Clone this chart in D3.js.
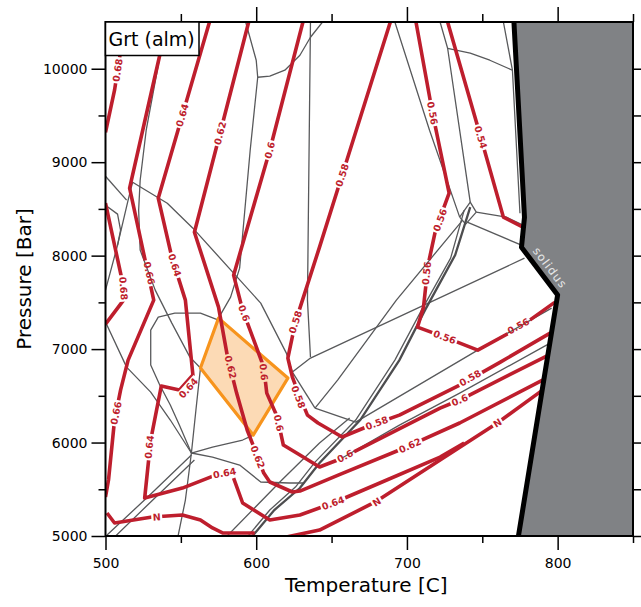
<!DOCTYPE html>
<html>
<head>
<meta charset="utf-8">
<script src="https://cdn.jsdelivr.net/npm/d3@7"></script>
<style>
body { margin: 0; background: #fff; }
svg { display: block; font-family: "DejaVu Sans", sans-serif; }
</style>
</head>
<body>
<script>
// axes
var tempMajor = [500, 600, 700, 800];
var tempMinor = [550, 650, 750, 850];
var pressMajor = [5000, 6000, 7000, 8000, 9000, 10000];
var pressMinor = [5500, 6500, 7500, 8500, 9500];

// solidus [T, P]
var solidus = [[771, 10500], [778, 8410], [776, 8090], [800, 7580], [774, 5000]];

// garnet almandine isopleths [T, P]
var iso068a = [[500, 9320], [506, 9770], [513, 10500]];
var iso068b = [[500, 8561], [511, 7738], [512, 7524], [500, 7267]];
var iso066 = [[541, 10500], [528, 9577], [516, 8722], [532, 7524], [515, 6882], [510, 6561], [506, 6241], [502, 5599], [500, 5417]];
var iso064 = [[569, 10500], [551, 9503], [535, 8615], [544, 7984], [553, 7524], [558, 6722], [549, 6561], [537, 6604],
  [530, 6027], [526, 5406], [551, 5513], [573, 5652], [587, 5695]];
var iso064b = [[585, 5620], [591, 5353], [609, 5171], [629, 5225], [651, 5353], [682, 5567], [722, 5845], [738, 5995]];
var iso062 = [[595, 10500], [576, 9310], [559, 8251], [575, 7449], [581, 6914], [587, 6529], [594, 6134], [601, 5845],
  [605, 5674], [609, 5578], [624, 5471], [629, 5481], [656, 5663], [695, 5920], [735, 6209], [790, 6668]];
var iso060 = [[631, 10500], [609, 9128], [585, 7791], [591, 7417], [605, 6807], [607, 6529], [614, 6273], [618, 5973],
  [629, 5866], [642, 5738], [654, 5813], [722, 6369], [735, 6455], [794, 6936]];
var iso058 = [[689, 10500], [657, 8861], [642, 8091], [626, 7289], [621, 6904], [624, 6701], [629, 6487], [634, 6294],
  [641, 6209], [657, 6059], [673, 6166], [695, 6294], [735, 6615], [762, 6861], [795, 7171]];
var iso056 = [[706, 10500], [717, 9524], [728, 8668], [719, 8273], [714, 7898], [711, 7449], [707, 7235], [725, 7128],
  [747, 6989], [775, 7235], [798, 7500]];
var iso054 = [[727, 10500], [749, 9267], [764, 8412], [777, 8305]];
var isoN1 = [[501, 5246], [506, 5139], [531, 5203], [551, 5225], [563, 5171], [571, 5086], [578, 5032], [599, 5032]];
var isoN2 = [[620, 4989], [642, 5064], [679, 5364], [722, 5813], [760, 6209], [790, 6561]];

var isopleths = [iso068a, iso068b, iso066, iso064, iso064b, iso062, iso060, iso058, iso056, iso054, isoN1, isoN2];

// contour labels [text, T, P]
var contourLabels = [
  ["0.68", 508, 9984], ["0.68", 512, 7650], ["0.66", 529, 7813], ["0.66", 507, 6315],
  ["0.64", 551, 9503], ["0.64", 546, 7898], ["0.64", 555, 6583], ["0.64", 529, 5952], ["0.64", 579, 5674], ["0.64", 651, 5353],
  ["0.62", 576, 9310], ["0.62", 583, 6807], ["0.62", 601, 5845], ["0.62", 702, 5968],
  ["0.6", 609, 9128], ["0.6", 592, 7385], ["0.6", 605, 6754], ["0.6", 615, 6209], ["0.6", 659, 5855], ["0.6", 735, 6455],
  ["0.58", 657, 8861], ["0.58", 626, 7289], ["0.58", 628, 6487], ["0.58", 680, 6209], ["0.58", 742, 6690],
  ["0.56", 717, 9524], ["0.56", 722, 8380], ["0.56", 713, 7813], ["0.56", 725, 7128], ["0.56", 774, 7246],
  ["0.54", 749, 9267],
  ["N", 534, 5203], ["N", 680, 5364], ["N", 760, 6209]
];

// phase field boundaries [T, P]
var bTop1 = [[593, 10500], [600, 10091], [601, 9909], [596, 9128], [589, 7866], [583, 7556], [575, 7331]];
var bTop2 = [[601, 9909], [609, 9920], [619, 9984], [629, 10144], [636, 10337], [644, 10500]];
var bVert = [[636, 10500], [634, 7524], [636, 6914]];
var bDiag = [[518, 8786], [541, 8561], [558, 8294], [585, 7813], [603, 7492], [620, 6957], [624, 6754]];
var bLong = [[624, 6754], [636, 6904], [778, 7973]];
var bLink = [[624, 6754], [639, 6369]];
var bMid = [[737, 8380], [693, 7524], [654, 6668], [639, 6369]];
var bLow1 = [[580, 4989], [617, 5599], [642, 5995], [662, 6262]];
var bLow2 = [[557, 5888], [571, 5845], [589, 5759], [603, 5578], [622, 5567], [632, 5567]];
var bLeft1 = [[500, 7289], [514, 6807], [530, 6540], [543, 6241], [557, 5888]];
var bLoop = [[575, 7310], [563, 7385], [546, 7385], [535, 7342], [530, 7203], [530, 6829], [536, 6615], [543, 6401],
  [549, 6187], [557, 5888], [571, 5952], [591, 6027], [598, 6080]];
var bLeft2 = [[536, 10123], [527, 9342], [523, 8807], [522, 8487], [523, 8059], [533, 7631], [544, 7278], [556, 6914],
  [563, 6797], [560, 6348], [557, 5888], [553, 5385], [548, 4989]];
var bLeft3 = [[500, 7631], [508, 8112], [515, 8594], [518, 8786]];
var bLeft4 = [[500, 8540], [508, 8444], [510, 8273], [508, 8112]];
var bLeft5 = [[500, 8850], [514, 8594]];
var bPair1 = [[557, 5866], [528, 5417], [501, 5011]];
var bPair2 = [[559, 5813], [530, 5364], [506, 4989]];
var bThin = [[738, 8487], [729, 7973], [709, 7396], [692, 6882], [666, 6241], [639, 5791], [626, 5524], [609, 5278], [594, 4989]];
var bR1 = [[692, 10500], [715, 9342], [735, 8412]];
var bR2 = [[722, 10500], [727, 10219], [742, 8572]];
var bR3 = [[727, 10219], [742, 10166], [755, 10091], [770, 9984]];
var bR4 = [[764, 10500], [770, 9984], [775, 8454]];
var bR5 = [[735, 8412], [742, 8572], [746, 8465], [739, 8337], [735, 8412]];
var bR6 = [[746, 8465], [766, 8412], [777, 8326]];
var bR7 = [[740, 8358], [776, 8112]];
var bR8 = [[639, 6369], [666, 6219], [747, 6989], [796, 7438]];
var bR9 = [[657, 5834], [695, 6187], [735, 6529], [795, 7064]];
var bThick = [[742, 8519], [732, 8005], [712, 7417], [695, 6882], [669, 6241], [642, 5781], [629, 5513], [612, 5278], [597, 4989]];

var boundaries = [bTop1, bTop2, bVert, bDiag, bLong, bLink, bMid, bLow1, bLow2, bLeft1, bLoop, bLeft2, bLeft3, bLeft4,
  bLeft5, bPair1, bPair2, bThin, bR1, bR2, bR3, bR4, bR5, bR6, bR7, bR8, bR9];

// highlighted field
var field = [[575, 7331], [621, 6690], [598, 6080], [563, 6797]];

var W = 641, H = 607;
var red = "#be1e2d";

var x = d3.scaleLinear().domain([500, 850]).range([105.5, 633]);
var y = d3.scaleLinear().domain([5000, 10500]).range([536, 22]);
var line = d3.line().x(d => x(d[0])).y(d => y(d[1]));

var svg = d3.select("body").append("svg").attr("width", W).attr("height", H);
var defs = svg.append("defs");
defs.append("clipPath").attr("id", "plot").append("rect")
    .attr("x", x(500)).attr("y", y(10500))
    .attr("width", x(850) - x(500)).attr("height", y(5000) - y(10500));
var mask = defs.append("mask").attr("id", "gaps").attr("maskUnits", "userSpaceOnUse")
    .attr("x", 0).attr("y", 0).attr("width", W).attr("height", H);
mask.append("rect").attr("width", W).attr("height", H).attr("fill", "white");

var plot = svg.append("g").attr("clip-path", "url(#plot)");

plot.append("g").selectAll("path").data(boundaries).join("path")
    .attr("d", line)
    .attr("fill", "none")
    .attr("stroke", "#58595b")
    .attr("stroke-width", 1.3)
    .attr("stroke-linejoin", "round");
plot.append("path").datum(bThick)
    .attr("d", line)
    .attr("fill", "none")
    .attr("stroke", "#4d4d4f")
    .attr("stroke-width", 2.3);

plot.append("path").datum(field)
    .attr("d", d => line(d) + "Z")
    .attr("fill", "#fcdab5")
    .attr("stroke", "#f7941d")
    .attr("stroke-width", 3.2)
    .attr("stroke-linejoin", "round");

plot.append("g").attr("mask", "url(#gaps)")
  .selectAll("path").data(isopleths).join("path")
    .attr("d", line)
    .attr("fill", "none")
    .attr("stroke", red)
    .attr("stroke-width", 3.6)
    .attr("stroke-linejoin", "round");

// angle of the nearest segment, in screen space
function segAngle(lines, px, py) {
    var best = Infinity, ang = 0;
    lines.forEach(pts => {
        for (var i = 0; i < pts.length - 1; i++) {
            var x1 = x(pts[i][0]), y1 = y(pts[i][1]);
            var dx = x(pts[i + 1][0]) - x1, dy = y(pts[i + 1][1]) - y1;
            var t = ((px - x1) * dx + (py - y1) * dy) / (dx * dx + dy * dy);
            t = Math.max(0, Math.min(1, t));
            var d = Math.hypot(px - x1 - t * dx, py - y1 - t * dy);
            if (d < best) { best = d; ang = Math.atan2(dy, dx) * 180 / Math.PI; }
        }
    });
    if (ang > 90) ang -= 180;
    if (ang <= -90) ang += 180;
    return ang;
}

var labs = plot.append("g");
contourLabels.forEach(l => {
    var px = x(l[1]), py = y(l[2]);
    var tr = "translate(" + px + "," + py + ") rotate(" + segAngle(isopleths, px, py) + ")";
    var t = labs.append("text")
        .attr("transform", tr)
        .attr("text-anchor", "middle")
        .attr("dy", "0.36em")
        .attr("fill", red)
        .attr("font-size", 9.5)
        .attr("font-weight", "bold")
        .text(l[0]);
    var w = t.node().getComputedTextLength() + 3;
    mask.append("rect")
        .attr("x", -w / 2).attr("y", -5).attr("width", w).attr("height", 10)
        .attr("transform", tr)
        .attr("fill", "black");
});

// melt field right of the solidus
plot.append("path").datum(solidus.concat([[850, 5000], [850, 10500]]))
    .attr("d", d => line(d) + "Z")
    .attr("fill", "#808285");
plot.append("path").datum(solidus)
    .attr("d", line)
    .attr("fill", "none")
    .attr("stroke", "#000")
    .attr("stroke-width", 5)
    .attr("stroke-linejoin", "round");
var sx = x(795), sy = y(7870);
plot.append("text")
    .attr("transform", "translate(" + sx + "," + sy + ") rotate(" + segAngle([solidus], sx, sy) + ")")
    .attr("text-anchor", "middle")
    .attr("dy", "0.35em")
    .attr("fill", "#e6e7e8")
    .attr("font-size", 11.5)
    .attr("letter-spacing", 1.2)
    .text("solidus");

// axes
function styleAxis(g) {
    g.select(".domain").remove();
    g.selectAll("line").attr("stroke", "#000").attr("stroke-width", 1.5);
    g.selectAll("text").attr("fill", "#000");
    g.attr("font-family", "DejaVu Sans").attr("font-size", 14);
}
svg.append("g").attr("transform", "translate(" + x(500) + ",0)")
    .call(d3.axisLeft(y).tickValues(pressMajor).tickSize(14).tickPadding(4).tickFormat(d3.format("d")))
    .call(styleAxis);
svg.append("g").attr("transform", "translate(" + x(500) + ",0)")
    .call(d3.axisLeft(y).tickValues(pressMinor).tickSize(7).tickFormat(""))
    .call(styleAxis);
svg.append("g").attr("transform", "translate(" + x(850) + ",0)")
    .call(d3.axisRight(y).tickValues(pressMajor.concat(pressMinor)).tickSize(9).tickFormat(""))
    .call(styleAxis);
svg.append("g").attr("transform", "translate(0," + y(5000) + ")")
    .call(d3.axisBottom(x).tickValues(tempMajor).tickSize(14).tickPadding(8))
    .call(styleAxis);
svg.append("g").attr("transform", "translate(0," + y(5000) + ")")
    .call(d3.axisBottom(x).tickValues(tempMinor).tickSize(7).tickFormat(""))
    .call(styleAxis);
svg.append("g").attr("transform", "translate(0," + y(10500) + ")")
    .call(d3.axisTop(x).tickValues(tempMajor.slice(1)).tickSize(15).tickFormat(""))
    .call(styleAxis);
svg.append("g").attr("transform", "translate(0," + y(10500) + ")")
    .call(d3.axisTop(x).tickValues(tempMinor).tickSize(8).tickFormat(""))
    .call(styleAxis);

svg.append("rect")
    .attr("x", x(500)).attr("y", y(10500))
    .attr("width", x(850) - x(500)).attr("height", y(5000) - y(10500))
    .attr("fill", "none").attr("stroke", "#000").attr("stroke-width", 2);

svg.append("text")
    .attr("x", (x(500) + x(850)) / 2 - 3).attr("y", 592)
    .attr("text-anchor", "middle").attr("font-size", 20)
    .text("Temperature [C]");
svg.append("text")
    .attr("transform", "translate(31," + (y(5000) + y(10500)) / 2 + ") rotate(-90)")
    .attr("text-anchor", "middle").attr("font-size", 20)
    .text("Pressure [Bar]");

// phase title box
svg.append("rect")
    .attr("x", x(500)).attr("y", y(10500)).attr("width", 93.5).attr("height", 33.5)
    .attr("fill", "#fff").attr("stroke", "#000").attr("stroke-width", 1.5);
svg.append("text")
    .attr("x", x(500) + 3).attr("y", y(10500) + 24)
    .attr("font-size", 19)
    .text("Grt (alm)");
</script>
</body>
</html>
